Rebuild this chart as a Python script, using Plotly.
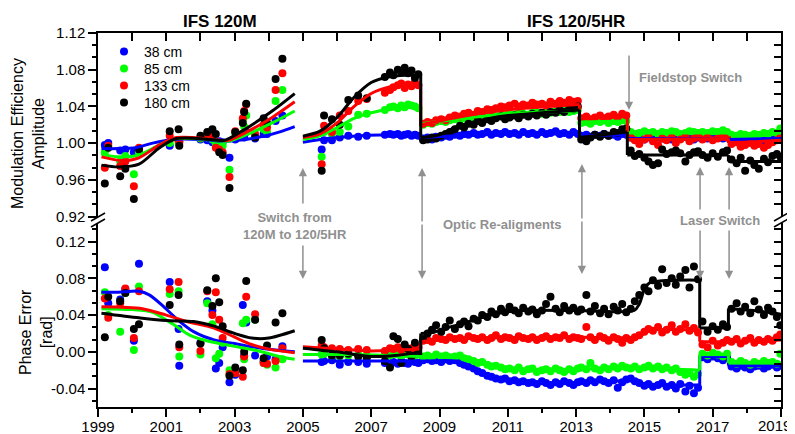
import plotly.graph_objects as go

# ---------------- data ----------------
series_names = ["38 cm", "85 cm", "133 cm", "180 cm"]
series_colors = ["#0000ff", "#00ff00", "#ff0000", "#000000"]

amp_tick_vals = [0.92, 0.96, 1.00, 1.04, 1.08, 1.12]
amp_tick_text = ["0.92", "0.96", "1.00", "1.04", "1.08", "1.12"]
pha_tick_vals = [-0.04, 0.00, 0.04, 0.08, 0.12]
pha_tick_text = ["-0.04", "0.00", "0.04", "0.08", "0.12"]
year_tick_vals = [1999, 2001, 2003, 2005, 2007, 2009, 2011, 2013, 2015, 2017, 2019]
year_tick_text = ["1999", "2001", "2003", "2005", "2007", "2009", "2011", "2013", "2015", "2017", "2019"]

# IFS 120M period
m_dates = [1999.2, 1999.3, 1999.65, 1999.8, 2000.05, 2000.2, 2001.1, 2001.36, 2001.38, 2002.0,
           2002.2, 2002.35, 2002.45, 2002.55, 2002.65, 2002.85, 2003.02, 2003.24, 2003.28, 2003.34,
           2003.6, 2003.85, 2003.95, 2004.2, 2004.4]
m_amp_38 = [0.998, 1.000, 0.992, 0.993, 0.990, 0.994, 0.997, 1.003, 1.002, 1.004, 1.003, 1.001, 1.000,
            1.002, 1.001, 0.984, 1.004, 1.010, 1.006, 1.012, 1.005, 1.010, 1.010, 1.024, 1.030]
m_amp_85 = [0.990, 0.995, 0.980, 0.986, 0.966, 0.990, 1.000, 1.000, 0.999, 1.005, 1.006, 1.004, 0.999,
            0.998, 0.997, 0.971, 1.010, 1.025, 1.018, 1.030, 1.008, 1.015, 1.012, 1.046, 1.058]
m_amp_133 = [0.973, 0.997, 0.975, 0.980, 0.953, 0.995, 1.008, 1.003, 1.001, 1.006, 1.010, 1.008, 0.995,
             0.993, 0.990, 0.963, 1.013, 1.027, 1.035, 1.042, 1.010, 1.020, 1.017, 1.058, 1.076]
m_amp_180 = [0.956, 0.995, 0.964, 0.972, 0.939, 0.993, 1.013, 1.015, 0.997, 1.008, 1.012, 1.015, 1.010,
             0.990, 0.987, 0.951, 1.012, 1.022, 1.034, 1.043, 1.006, 1.027, 1.022, 1.070, 1.092]
m_pha_38 = [0.092, 0.053, 0.057, 0.068, 0.012, 0.096, 0.076, 0.025, -0.015, 0.010, 0.055, 0.045, -0.018,
            -0.012, 0.005, -0.033, -0.025, 0.051, -0.004, 0.032, -0.004, -0.010, -0.005, -0.008, 0.006]
m_pha_85 = [0.065, 0.040, 0.022, 0.064, 0.002, 0.071, 0.063, 0.066, -0.005, -0.003, 0.053, 0.030, -0.007,
            -0.002, 0.010, -0.020, -0.023, 0.031, -0.008, 0.035, 0.035, -0.012, -0.014, -0.017, -0.008]
m_pha_133 = [0.058, 0.037, 0.053, 0.069, 0.015, 0.066, 0.068, 0.076, 0.005, 0.001, 0.066, 0.040, 0.065,
             0.035, 0.015, -0.024, -0.023, -0.027, -0.005, 0.060, 0.041, -0.012, -0.013, -0.010, 0.004]
m_pha_180 = [0.016, 0.060, 0.055, 0.064, 0.025, 0.030, 0.051, 0.062, 0.008, 0.009, 0.067, 0.050, 0.080,
             0.054, 0.028, -0.026, -0.017, -0.020, 0.000, 0.077, 0.035, -0.007, 0.007, 0.032, 0.042]

# IFS 120/5HR period
hr_dates = [2005.55, 2005.62, 2005.85, 2006.08, 2006.33, 2006.62, 2006.87, 2007.4, 2007.55, 2007.65,
            2007.78, 2007.88, 2007.98, 2008.08, 2008.18, 2008.28, 2008.38,
            2008.52, 2008.65, 2008.78, 2008.9, 2009.05, 2009.18, 2009.3, 2009.45, 2009.6, 2009.72,
            2009.85, 2010.0, 2010.12, 2010.25, 2010.4, 2010.52, 2010.65, 2010.8, 2010.92, 2011.05,
            2011.2, 2011.32, 2011.45, 2011.6, 2011.72, 2011.85, 2012.0, 2012.12, 2012.25, 2012.4,
            2012.52, 2012.65, 2012.8, 2012.92, 2013.05,
            2013.15, 2013.3, 2013.42, 2013.55, 2013.7, 2013.82, 2013.95, 2014.1, 2014.22, 2014.35, 2014.47,
            2014.6, 2014.72, 2014.85, 2015.0, 2015.12, 2015.25, 2015.4, 2015.52, 2015.65, 2015.8,
            2015.92, 2016.05, 2016.2, 2016.32, 2016.45, 2016.57,
            2016.7, 2016.85, 2017.0, 2017.15, 2017.3, 2017.42,
            2017.55, 2017.7, 2017.82, 2017.95, 2018.1, 2018.22, 2018.35, 2018.5, 2018.62, 2018.75,
            2018.88, 2018.98]

hr_amp_38 = ([0.993, 1.003, 1.003, 1.006, 1.008, 1.007, 1.008, 1.009, 1.010, 1.009, 1.010, 1.008, 1.009,
              1.010, 1.008, 1.009, 1.008]
             + [1.005, 1.006, 1.004, 1.007, 1.006, 1.008, 1.007, 1.009, 1.008, 1.010, 1.009, 1.011, 1.009,
                1.010, 1.012, 1.009, 1.011, 1.010, 1.012, 1.010, 1.011, 1.009, 1.012, 1.010, 1.011, 1.009,
                1.012, 1.010, 1.011, 1.013, 1.010, 1.011, 1.009, 1.012, 1.010]
             + [1.008, 1.009, 1.007, 1.009, 1.008, 1.010, 1.008, 1.009, 1.007, 1.010, 1.009]
             + [1.006, 1.005, 1.006, 1.004, 1.006, 1.005, 1.007, 1.005, 1.006, 1.004, 1.006, 1.005, 1.007,
                1.005, 1.004, 1.006]
             + [1.006, 1.005, 1.007, 1.006, 1.005, 1.006]
             + [1.004, 1.003, 1.005, 1.004, 1.003, 1.005, 1.004, 1.003, 1.005, 1.004, 1.006, 1.008])
hr_amp_85 = ([0.985, 1.012, 1.010, 1.012, 1.018, 1.031, 1.032, 1.036, 1.039, 1.040, 1.038, 1.041, 1.039,
              1.042, 1.041, 1.040, 1.038]
             + [1.020, 1.022, 1.021, 1.023, 1.024, 1.023, 1.025, 1.026, 1.025, 1.027, 1.026, 1.028, 1.027,
                1.029, 1.028, 1.030, 1.029, 1.031, 1.030, 1.032, 1.031, 1.033, 1.032, 1.031, 1.033, 1.034,
                1.032, 1.034, 1.033, 1.035, 1.034, 1.036, 1.034, 1.035, 1.036]
             + [1.022, 1.023, 1.021, 1.024, 1.023, 1.025, 1.022, 1.024, 1.023, 1.025, 1.024]
             + [1.012, 1.010, 1.011, 1.013, 1.011, 1.012, 1.010, 1.012, 1.011, 1.013, 1.012, 1.010, 1.011,
                1.013, 1.012, 1.011]
             + [1.012, 1.011, 1.013, 1.012, 1.014, 1.012]
             + [1.009, 1.008, 1.010, 1.009, 1.008, 1.010, 1.009, 1.011, 1.010, 1.012, 1.011, 1.016])
hr_amp_133 = ([0.977, 1.019, 1.012, 1.030, 1.035, 1.046, 1.048, 1.055, 1.058, 1.061, 1.063, 1.065, 1.060,
               1.064, 1.062, 1.066, 1.063]
              + [1.021, 1.023, 1.022, 1.025, 1.026, 1.025, 1.028, 1.030, 1.029, 1.032, 1.033, 1.031, 1.035,
                 1.034, 1.037, 1.036, 1.038, 1.040, 1.039, 1.041, 1.043, 1.040, 1.042, 1.041, 1.044, 1.042,
                 1.043, 1.041, 1.045, 1.043, 1.046, 1.044, 1.047, 1.045, 1.046]
              + [1.027, 1.029, 1.026, 1.028, 1.030, 1.027, 1.029, 1.031, 1.028, 1.032, 1.030]
              + [1.006, 1.003, 0.999, 1.004, 1.007, 1.002, 0.998, 1.005, 1.003, 1.006, 1.000, 1.004, 1.007,
                 1.002, 1.005, 1.008]
              + [1.004, 1.006, 1.003, 1.005, 1.007, 1.006]
              + [0.999, 1.001, 0.996, 0.998, 1.000, 0.997, 0.999, 0.995, 0.998, 1.001, 1.003, 1.006])
hr_amp_180 = ([0.970, 1.030, 1.026, 1.020, 1.047, 1.052, 1.049, 1.072, 1.077, 1.074, 1.080, 1.078, 1.082,
               1.076, 1.079, 1.071, 1.075]
              + [1.003, 1.004, 1.006, 1.005, 1.008, 1.010, 1.012, 1.015, 1.019, 1.017, 1.021, 1.020, 1.024,
                 1.022, 1.026, 1.024, 1.027, 1.029, 1.026, 1.028, 1.030, 1.027, 1.031, 1.029, 1.032, 1.030,
                 1.033, 1.031, 1.034, 1.033, 1.036, 1.034, 1.038, 1.037, 1.040]
              + [1.004, 1.002, 1.006, 1.009, 1.007, 1.010, 1.008, 1.012, 1.011, 1.015, 1.016]
              + [0.992, 0.986, 0.988, 0.984, 0.980, 0.976, 0.978, 0.993, 0.988, 0.990, 0.992, 0.989, 0.980,
                 0.987, 0.990, 0.991]
              + [0.987, 0.984, 0.989, 0.985, 0.990, 0.992]
              + [0.982, 0.978, 0.984, 0.970, 0.981, 0.976, 0.972, 0.983, 0.979, 0.986, 0.988, 0.985])

hr_pha_38 = ([-0.011, -0.010, -0.009, -0.014, -0.011, -0.011, -0.013, -0.012, -0.014, -0.011, -0.013,
              -0.010, -0.012, -0.013, -0.010, -0.011, -0.012]
             + [-0.009, -0.008, -0.010, -0.009, -0.011, -0.008, -0.010, -0.009, -0.012, -0.014, -0.016,
                -0.018, -0.021, -0.023, -0.026, -0.027, -0.029, -0.030, -0.029, -0.032, -0.031, -0.033,
                -0.032, -0.034, -0.033, -0.035, -0.032, -0.034, -0.036, -0.033, -0.035, -0.032, -0.034,
                -0.036, -0.033]
             + [-0.032, -0.034, -0.031, -0.033, -0.030, -0.032, -0.034, -0.031, -0.039, -0.033, -0.030]
             + [-0.029, -0.032, -0.034, -0.037, -0.035, -0.038, -0.036, -0.034, -0.038, -0.036, -0.040,
                -0.035, -0.043, -0.037, -0.045, -0.039]
             + [-0.006, -0.008, -0.005, -0.007, -0.009, -0.006]
             + [-0.016, -0.018, -0.015, -0.017, -0.019, -0.016, -0.015, -0.018, -0.016, -0.014, -0.017,
                -0.015])
hr_pha_85 = ([-0.003, -0.002, -0.004, -0.005, -0.004, -0.003, -0.004, -0.003, -0.004, -0.002, -0.003,
              -0.004, -0.002, -0.003, -0.002, -0.004, -0.003]
             + [-0.005, -0.004, -0.006, -0.003, -0.005, -0.004, -0.006, -0.005, -0.004, -0.007, -0.008,
                -0.010, -0.012, -0.011, -0.014, -0.016, -0.015, -0.017, -0.019, -0.018, -0.020, -0.017,
                -0.021, -0.019, -0.018, -0.022, -0.020, -0.019, -0.021, -0.018, -0.020, -0.022, -0.019,
                -0.021, -0.018]
             + [-0.017, -0.019, -0.012, -0.018, -0.020, -0.017, -0.019, -0.016, -0.018, -0.015, -0.017]
             + [-0.018, -0.016, -0.019, -0.017, -0.015, -0.018, -0.016, -0.019, -0.017, -0.020, -0.018,
                -0.022, -0.025, -0.023, -0.027, -0.024]
             + [-0.002, -0.004, -0.001, -0.003, -0.005, -0.002]
             + [-0.011, -0.013, -0.010, -0.012, -0.014, -0.011, -0.013, -0.010, -0.012, -0.011, -0.013,
                -0.002])
hr_pha_133 = ([0.007, 0.005, 0.004, 0.003, 0.002, 0.003, 0.002, 0.001, 0.004, 0.003, 0.005, 0.002, 0.006,
               0.003, 0.004, 0.001, 0.005]
              + [0.012, 0.013, 0.011, 0.015, 0.014, 0.013, 0.016, 0.014, 0.015, 0.013, 0.017, 0.015, 0.014,
                 0.016, 0.013, 0.015, 0.018, 0.014, 0.016, 0.015, 0.013, 0.017, 0.015, 0.014, 0.016, 0.013,
                 0.015, 0.017, 0.014, 0.016, 0.015, 0.018, 0.014, 0.016, 0.015]
              + [0.014, 0.027, 0.016, 0.013, 0.017, 0.015, 0.012, 0.016, 0.014, 0.010, 0.015]
              + [0.013, 0.016, 0.018, 0.022, 0.025, 0.023, 0.027, 0.021, 0.024, 0.029, 0.022, 0.025, 0.030,
                 0.023, 0.026, 0.021]
              + [0.008, 0.005, 0.012, 0.007, 0.010, 0.013]
              + [0.011, 0.014, 0.009, 0.012, 0.015, 0.010, 0.013, 0.011, 0.014, 0.012, 0.016, 0.019])
hr_pha_180 = ([0.013, 0.004, -0.004, -0.004, -0.002, -0.005, -0.007, -0.010, -0.017, 0.017, 0.014, -0.012,
               0.008, 0.003, -0.005, 0.010, -0.002]
              + [0.014, 0.020, 0.024, 0.029, 0.022, 0.027, 0.034, 0.025, 0.030, 0.033, 0.028, 0.036, 0.034,
                 0.040, 0.038, 0.044, 0.041, 0.047, 0.043, 0.049, 0.045, 0.042, 0.048, 0.044, 0.046, 0.041,
                 0.045, 0.052, 0.060, 0.047, 0.043, 0.050, 0.045, 0.048, 0.044]
              + [0.046, 0.062, 0.044, 0.050, 0.042, 0.047, 0.041, 0.049, 0.045, 0.052, 0.043]
              + [0.047, 0.055, 0.062, 0.070, 0.066, 0.078, 0.072, 0.090, 0.075, 0.080, 0.073, 0.082, 0.089,
                 0.070, 0.093, 0.079]
              + [0.033, 0.022, 0.028, 0.024, 0.030, 0.027]
              + [0.047, 0.053, 0.044, 0.049, 0.042, 0.055, 0.046, 0.040, 0.048, 0.044, 0.038, 0.029])

# fitted curves: list of segments (x knots, y knots); consecutive segments sharing an x are joined by a step
fit_amp_38 = [([1999.1, 1999.6, 2000.1, 2000.6, 2001.2, 2002.0, 2002.7, 2003.3, 2003.9, 2004.3, 2004.76],
               [0.994, 0.994, 0.995, 1.000, 1.004, 1.004, 1.002, 1.004, 1.008, 1.012, 1.018]),
              ([2005.0, 2005.5, 2006.0, 2006.7, 2007.5, 2008.45], [1.001, 1.004, 1.006, 1.008, 1.009, 1.009]),
              ([2008.45, 2009.5, 2010.5, 2011.5, 2013.1], [1.006, 1.008, 1.0095, 1.010, 1.010]),
              ([2013.1, 2014.5], [1.008, 1.009]),
              ([2014.5, 2017.46], [1.005, 1.005]),
              ([2017.46, 2019.0], [1.004, 1.005])]
fit_amp_85 = [([1999.1, 1999.6, 2000.2, 2000.9, 2001.3, 2002.3, 2002.8, 2003.4, 2004.1, 2004.76],
               [0.988, 0.985, 0.987, 1.000, 1.005, 1.004, 1.002, 1.010, 1.022, 1.035]),
              ([2005.0, 2005.5, 2006.0, 2006.5, 2007.0, 2007.5, 2008.45],
               [1.004, 1.008, 1.017, 1.027, 1.033, 1.037, 1.040]),
              ([2008.45, 2009.5, 2010.5, 2011.5, 2013.1], [1.021, 1.026, 1.030, 1.033, 1.035]),
              ([2013.1, 2014.5], [1.023, 1.024]),
              ([2014.5, 2017.46], [1.011, 1.011]),
              ([2017.46, 2019.0], [1.009, 1.011])]
fit_amp_133 = [([1999.1, 1999.7, 2000.2, 2000.8, 2001.3, 2002.4, 2002.8, 2003.4, 2004.1, 2004.76],
                [0.985, 0.981, 0.984, 0.998, 1.006, 1.004, 1.003, 1.013, 1.028, 1.045]),
               ([2005.0, 2005.5, 2006.0, 2006.5, 2007.0, 2007.5, 2008.0, 2008.45],
                [1.006, 1.010, 1.022, 1.040, 1.054, 1.061, 1.064, 1.065]),
               ([2008.45, 2009.5, 2010.5, 2011.5, 2013.1], [1.020, 1.028, 1.034, 1.038, 1.042]),
               ([2013.1, 2014.5], [1.027, 1.029]),
               ([2014.5, 2017.46], [1.004, 1.005]),
               ([2017.46, 2019.0], [1.000, 1.003])]
fit_amp_180 = [([1999.1, 1999.6, 2000.2, 2000.8, 2001.3, 2002.3, 2002.7, 2003.3, 2004.1, 2004.76],
                [0.976, 0.974, 0.977, 0.995, 1.005, 1.004, 1.003, 1.015, 1.035, 1.054]),
               ([2005.0, 2005.5, 2006.0, 2006.5, 2007.0, 2007.5, 2008.0, 2008.45],
                [1.0075, 1.013, 1.028, 1.050, 1.066, 1.072, 1.074, 1.074]),
               ([2008.45, 2009.0, 2009.5, 2010.0, 2010.5, 2011.0, 2012.0, 2013.1],
                [1.006, 1.009, 1.018, 1.023, 1.027, 1.030, 1.033, 1.036]),
               ([2013.1, 2013.8, 2014.5], [1.006, 1.009, 1.012]),
               ([2014.5, 2017.46], [0.987, 0.987]),
               ([2017.46, 2019.0], [0.980, 0.980])]

fit_pha_38 = [([1999.1, 1999.6, 2000.2, 2000.5, 2000.9, 2001.3, 2001.8, 2002.4, 2003.0, 2003.6, 2004.2, 2004.76],
               [0.065, 0.065, 0.066, 0.062, 0.050, 0.036, 0.022, 0.013, 0.009, 0.005, 0.002, 0.000]),
              ([2005.0, 2006.5, 2008.45, 2009.5, 2010.0, 2010.4, 2010.8, 2011.4, 2012.5, 2013.1, 2014.85],
               [-0.010, -0.010, -0.010, -0.010, -0.017, -0.025, -0.030, -0.033, -0.034, -0.033, -0.031]),
              ([2014.85, 2016.62], [-0.036, -0.036]),
              ([2016.62, 2017.46], [-0.005, -0.005]),
              ([2017.46, 2019.0], [-0.015, -0.015])]
fit_pha_85 = [([1999.1, 2000.0, 2000.6, 2001.2, 2001.7, 2002.3, 2003.0, 2003.7, 2004.3, 2004.76],
               [0.047, 0.046, 0.043, 0.030, 0.018, 0.011, 0.006, 0.001, -0.005, -0.008]),
              ([2005.0, 2006.5, 2008.45, 2009.7, 2010.0, 2010.4, 2011.1, 2012.5, 2014.5, 2016.0, 2016.62],
               [-0.003, -0.003, -0.005, -0.006, -0.009, -0.0145, -0.018, -0.019, -0.018, -0.019, -0.020]),
              ([2016.62, 2017.46], [-0.003, -0.003]),
              ([2017.46, 2019.0], [-0.012, -0.012])]
fit_pha_133 = [([1999.1, 2000.3, 2001.0, 2001.6, 2002.4, 2003.0, 2003.5, 2004.0, 2004.76],
                [0.049, 0.047, 0.040, 0.033, 0.026, 0.016, 0.008, 0.003, -0.001]),
               ([2005.0, 2006.0, 2007.0, 2008.45], [0.0055, 0.003, 0.001, 0.003]),
               ([2008.45, 2009.5, 2011.0, 2013.1, 2014.8, 2014.95, 2015.1, 2015.3, 2016.62],
                [0.011, 0.0145, 0.0155, 0.016, 0.016, 0.019, 0.023, 0.024, 0.024]),
               ([2016.62, 2017.46, 2019.0], [0.011, 0.011, 0.013])]
fit_pha_180 = [([1999.1, 2000.2, 2001.0, 2001.8, 2002.4, 2003.0, 2003.5, 2004.0, 2004.76],
                [0.042, 0.037, 0.034, 0.033, 0.028, 0.020, 0.015, 0.015, 0.023]),
               ([2005.0, 2006.0, 2007.0, 2007.7, 2008.45], [0.004, 0.000, -0.005, -0.004, 0.000]),
               ([2008.45, 2008.8, 2009.2, 2009.7, 2010.2, 2010.9, 2011.5, 2013.1, 2014.7, 2014.85, 2015.0,
                 2015.15, 2016.62],
                [0.020, 0.021, 0.026, 0.031, 0.037, 0.043, 0.045, 0.045, 0.045, 0.052, 0.068, 0.075, 0.078]),
               ([2016.62, 2017.46], [0.026, 0.026]),
               ([2017.46, 2018.2, 2019.0], [0.047, 0.045, 0.041])]

m_amp = [m_amp_38, m_amp_85, m_amp_133, m_amp_180]
m_pha = [m_pha_38, m_pha_85, m_pha_133, m_pha_180]
hr_amp = [hr_amp_38, hr_amp_85, hr_amp_133, hr_amp_180]
hr_pha = [hr_pha_38, hr_pha_85, hr_pha_133, hr_pha_180]
fit_amp = [fit_amp_38, fit_amp_85, fit_amp_133, fit_amp_180]
fit_pha = [fit_pha_38, fit_pha_85, fit_pha_133, fit_pha_180]

# ---------------- figure ----------------
FONT = 'Arial, "Liberation Sans", sans-serif'
GRAY = "#909090"
OFF = 8  # default page margin of the html body
FIG_W, FIG_H = 795 - OFF, 434 - OFF
# plot area in screen pixels
L, R, T, B = 98, 781, 33, 407
W, H = R - L, B - T


def px(xp):
    return (xp - L) / W


def py(yp):
    return (B - yp) / H


fig = go.Figure()
legend_ids = ["legend", "legend2", "legend3", "legend4"]

# points
for i in range(4):
    fig.add_trace(go.Scatter(x=m_dates + hr_dates, y=m_amp[i] + hr_amp[i], mode="markers",
                             marker=dict(size=8, color=series_colors[i]), name=series_names[i],
                             legend=legend_ids[i], showlegend=True, xaxis="x", yaxis="y"))
for i in range(4):
    fig.add_trace(go.Scatter(x=m_dates + hr_dates, y=m_pha[i] + hr_pha[i], mode="markers",
                             marker=dict(size=8, color=series_colors[i]), name=series_names[i],
                             showlegend=False, xaxis="x2", yaxis="y2"))


def add_fit(segs, color, xa, ya):
    prev = None
    for xs, ys in segs:
        fig.add_trace(go.Scatter(x=xs, y=ys, mode="lines",
                                 line=dict(color=color, width=3, shape="spline", smoothing=0.8),
                                 showlegend=False, hoverinfo="skip", xaxis=xa, yaxis=ya))
        if prev is not None and abs(prev[0] - xs[0]) < 1e-9:
            fig.add_trace(go.Scatter(x=[prev[0], xs[0]], y=[prev[1], ys[0]], mode="lines",
                                     line=dict(color=color, width=3),
                                     showlegend=False, hoverinfo="skip", xaxis=xa, yaxis=ya))
        prev = (xs[-1], ys[-1])


for i in range(4):
    add_fit(fit_amp[i], series_colors[i], "x", "y")
for i in range(4):
    add_fit(fit_pha[i], series_colors[i], "x2", "y2")

# invisible helpers so the right-hand axes render
fig.add_trace(go.Scatter(x=[], y=[], xaxis="x", yaxis="y3", showlegend=False))
fig.add_trace(go.Scatter(x=[], y=[], xaxis="x2", yaxis="y4", showlegend=False))

top_dom = [py(216.5), 1.0]
bot_dom = [0.0, py(223.2)]
axis_common = dict(showgrid=False, zeroline=False, linecolor="black", linewidth=1.5,
                   tickcolor="black", tickwidth=1.5, automargin=False)

legend_layout = {}
for i, lid in enumerate(legend_ids):
    legend_layout[lid] = dict(x=px(104), y=py(52 + 17 * i), xanchor="left", yanchor="middle",
                              bgcolor="rgba(0,0,0,0)", font=dict(size=14, family=FONT, color="black"),
                              itemwidth=30, borderwidth=0)

# the last year label is drawn separately (right-aligned) so it stays inside the window
axis_year_text = year_tick_text[:-1] + [""]

fig.update_layout(
    width=FIG_W, height=FIG_H,
    margin=dict(l=L - OFF, r=FIG_W - (R - OFF), t=T - OFF, b=FIG_H - (B - OFF), pad=0,
                autoexpand=False),
    plot_bgcolor="white", paper_bgcolor="white",
    font=dict(family=FONT, size=15, color="black"),
    xaxis=dict(domain=[0, 1], anchor="y", range=[1999, 2019], side="top", showline=True,
               ticks="inside", ticklen=8, tickmode="linear", tick0=1999, dtick=1,
               showticklabels=False, **axis_common),
    xaxis2=dict(domain=[0, 1], anchor="y2", range=[1999, 2019], side="bottom", showline=True,
                ticks="outside", ticklen=8, tickmode="array", tickvals=year_tick_vals,
                ticktext=axis_year_text, ticklabelstandoff=-3,
                minor=dict(ticks="outside", ticklen=4, tickmode="linear", tick0=1999, dtick=1,
                           tickcolor="black", tickwidth=1.5),
                tickfont=dict(size=15), **axis_common),
    yaxis=dict(domain=top_dom, anchor="x", range=[0.92, 1.12], showline=True, ticks="outside",
               ticklen=8, tickmode="array", tickvals=amp_tick_vals, ticktext=amp_tick_text,
               minor=dict(ticks="outside", ticklen=4, tickmode="linear", tick0=0.92, dtick=0.04 / 3,
                          tickcolor="black", tickwidth=1.5),
               tickfont=dict(size=15), **axis_common),
    yaxis2=dict(domain=bot_dom, anchor="x2", range=[-0.06, 0.14], showline=True, ticks="outside",
                ticklen=8, tickmode="array", tickvals=pha_tick_vals, ticktext=pha_tick_text,
                minor=dict(ticks="outside", ticklen=4, tickmode="linear", tick0=0.0, dtick=0.04 / 3,
                           tickcolor="black", tickwidth=1.5),
                tickfont=dict(size=15), **axis_common),
    yaxis3=dict(overlaying="y", anchor="x", side="right", range=[0.92, 1.12], showline=True,
                ticks="inside", ticklen=7, tickmode="linear", tick0=0.92, dtick=0.04 / 3,
                showticklabels=False, **axis_common),
    yaxis4=dict(overlaying="y2", anchor="x2", side="right", range=[-0.06, 0.14], showline=True,
                ticks="inside", ticklen=7, tickmode="linear", tick0=0.0, dtick=0.04 / 3,
                showticklabels=False, **axis_common),
    showlegend=True,
    **legend_layout,
)

annotations = []


def label(text, xp, yp, size, color="black", angle=0, xanchor="center"):
    annotations.append(dict(text=text, x=px(xp), y=py(yp), xref="paper", yref="paper",
                            xanchor=xanchor, yanchor="middle", showarrow=False, textangle=angle,
                            font=dict(size=size, family=FONT, color=color)))


# titles
label("<b>IFS 120M</b>", 220, 21, 17)
label("<b>IFS 120/5HR</b>", 576, 21, 17)
# y axis titles
label("Modulation Efficiency<br>Amplitude", 28, 134, 16, angle=-90)
label("Phase Error<br>[rad]", 36, 332, 16, angle=-90)
# last x tick label, kept inside the page
label(year_tick_text[-1], 793, 425, 15, xanchor="right")
# gray event labels
label("<b>Switch from<br>120M to 120/5HR</b>", 295, 226, 13, GRAY)
label("<b>Optic Re-aligments</b>", 502, 224, 13, GRAY)
label("<b>Fieldstop Switch</b>", 690, 77, 13, GRAY)
label("<b>Laser Switch</b>", 720, 220, 13, GRAY)


def arrow(xyear, tail_py, head_py):
    annotations.append(dict(x=xyear, y=py(head_py), xref="x2", yref="paper",
                            ax=0, ay=tail_py - head_py, axref="pixel", ayref="pixel",
                            text="", showarrow=True, arrowhead=2,
                            arrowsize=1.1, arrowwidth=1.5, arrowcolor=GRAY, standoff=0, startstandoff=0))


arrow(2005.0, 205, 168)
arrow(2005.0, 244, 279)
arrow(2008.49, 223, 168)
arrow(2008.49, 223, 279)
arrow(2013.17, 220, 164)
arrow(2013.17, 220, 274)
arrow(2014.55, 54, 110)
arrow(2016.63, 211, 167)
arrow(2016.63, 229, 279)
arrow(2017.48, 211, 167)
arrow(2017.48, 229, 279)
fig.update_layout(annotations=annotations)

# axis break marks
shapes = []
for xl in (L, R):
    for dy in (0, 6):
        shapes.append(dict(type="line", xref="paper", yref="paper",
                           x0=px(xl - 7), y0=py(221 + dy), x1=px(xl + 7), y1=py(213 + dy),
                           line=dict(color="black", width=1.5)))
fig.update_layout(shapes=shapes)

fig.write_html("out.html")
